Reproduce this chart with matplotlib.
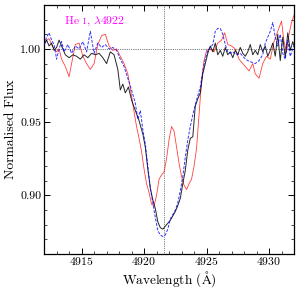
import numpy as np
import matplotlib
matplotlib.use("Agg")
import matplotlib.pyplot as plt
from matplotlib.ticker import MultipleLocator, FormatStrFormatter
from matplotlib.offsetbox import TextArea, HPacker, AnnotationBbox

plt.rcParams['font.family'] = ['cmr10', 'DejaVu Serif']
plt.rcParams['mathtext.fontset'] = 'cm'
plt.rcParams['axes.formatter.use_mathtext'] = True
plt.rcParams['axes.unicode_minus'] = False

# Black (solid) spectrum
black_wave = [4912.0, 4912.2, 4912.4, 4912.6, 4912.8, 4913.0, 4913.2, 4913.4, 4913.7, 4914.0,
              4914.3, 4914.6, 4914.9, 4915.2, 4915.5, 4915.8, 4916.1, 4916.4, 4916.7, 4917.0,
              4917.3, 4917.6, 4917.9, 4918.1, 4918.3, 4918.5, 4918.75, 4919.0, 4919.3, 4919.6,
              4919.9, 4920.1, 4920.3, 4920.5, 4920.7, 4920.9, 4921.1, 4921.3, 4921.5, 4921.7,
              4921.9, 4922.1, 4922.3, 4922.5, 4922.7, 4922.9, 4923.1, 4923.3, 4923.5, 4923.7,
              4923.9, 4924.1, 4924.3, 4924.5, 4924.7, 4924.9, 4925.1, 4925.3, 4925.5, 4925.7,
              4925.9, 4926.1, 4926.3, 4926.5, 4926.7, 4926.9, 4927.1, 4927.3, 4927.5, 4927.7,
              4927.9, 4928.1, 4928.3, 4928.5, 4928.7, 4928.9, 4929.1, 4929.3, 4929.5, 4929.7,
              4929.9, 4930.1, 4930.3, 4930.5, 4930.7, 4930.9, 4931.1, 4931.3, 4931.5, 4931.7,
              4931.9, 4932.0]
black_flux = [1.003, 1.006, 1.002, 1.004, 0.999, 1.001, 1.006, 1.002, 0.996, 0.994,
              0.996, 0.995, 0.993, 0.996, 0.994, 0.997, 0.996, 0.997, 0.994, 0.990,
              0.998, 0.996, 0.986, 0.972, 0.976, 0.970, 0.974, 0.965, 0.958, 0.951,
              0.942, 0.933, 0.918, 0.905, 0.897, 0.891, 0.882, 0.878, 0.877, 0.879,
              0.881, 0.883, 0.886, 0.889, 0.893, 0.898, 0.908, 0.917, 0.931, 0.939,
              0.940, 0.961, 0.966, 0.970, 0.983, 0.990, 0.997, 1.002, 0.998, 1.004,
              0.996, 0.999, 0.995, 1.001, 0.996, 0.998, 0.994, 0.999, 0.996, 1.001,
              0.997, 0.995, 0.998, 1.003, 0.996, 0.999, 0.996, 1.003, 0.998, 1.002,
              0.995, 0.999, 1.004, 0.995, 1.010, 0.992, 1.008, 0.994, 1.011, 0.999,
              1.005, 1.002]

# Blue (dashed) spectrum
blue_wave = [4912.0, 4912.2, 4912.4, 4912.6, 4912.8, 4913.0, 4913.2, 4913.4, 4913.6, 4913.9,
             4914.2, 4914.5, 4914.8, 4915.1, 4915.4, 4915.7, 4916.0, 4916.3, 4916.6, 4916.9,
             4917.2, 4917.5, 4917.8, 4918.1, 4918.4, 4918.7, 4919.0, 4919.3, 4919.5, 4919.7,
             4919.9, 4920.1, 4920.3, 4920.5, 4920.7, 4920.9, 4921.1, 4921.3, 4921.5, 4921.7,
             4921.9, 4922.1, 4922.3, 4922.5, 4922.7, 4922.9, 4923.1, 4923.3, 4923.5, 4923.7,
             4923.9, 4924.1, 4924.3, 4924.5, 4924.7, 4924.9, 4925.1, 4925.3, 4925.5, 4925.7,
             4925.9, 4926.1, 4926.3, 4926.5, 4926.7, 4926.9, 4927.1, 4927.4, 4927.7, 4928.0,
             4928.3, 4928.6, 4928.9, 4929.2, 4929.5, 4929.7, 4929.9, 4930.1, 4930.3, 4930.5,
             4930.7, 4930.9, 4931.1, 4931.3, 4931.5, 4931.7, 4931.9, 4932.0]
blue_flux = [1.003, 1.008, 1.011, 1.006, 1.003, 0.993, 1.000, 1.005, 0.998, 1.003,
             0.997, 1.002, 1.000, 1.005, 0.998, 1.012, 0.997, 1.004, 1.001, 1.003,
             1.000, 1.001, 0.999, 0.993, 0.988, 0.980, 0.972, 0.963, 0.952, 0.958,
             0.945, 0.935, 0.920, 0.905, 0.895, 0.885, 0.876, 0.873, 0.872, 0.873,
             0.877, 0.884, 0.887, 0.890, 0.895, 0.903, 0.913, 0.926, 0.938, 0.947,
             0.955, 0.962, 0.968, 0.974, 0.985, 0.993, 0.999, 1.001, 1.003, 1.012,
             1.014, 1.014, 1.010, 1.003, 0.998, 0.997, 0.998, 0.996, 0.997, 0.994,
             0.992, 0.991, 0.990, 0.992, 0.996, 1.004, 1.008, 1.012, 1.018, 1.008,
             1.002, 1.010, 0.997, 0.993, 1.006, 0.995, 1.000, 1.002]

# Red (thin) spectrum
red_wave = [4912.0, 4912.2, 4912.4, 4912.6, 4912.8, 4913.0, 4913.2, 4913.4, 4913.7, 4914.0,
            4914.2, 4914.5, 4914.8, 4915.1, 4915.4, 4915.7, 4916.0, 4916.3, 4916.6, 4916.9,
            4917.2, 4917.5, 4917.8, 4918.1, 4918.4, 4918.7, 4919.0, 4919.2, 4919.4, 4919.6,
            4919.8, 4920.0, 4920.2, 4920.4, 4920.6, 4920.8, 4921.0, 4921.2, 4921.4, 4921.6,
            4921.8, 4922.0, 4922.2, 4922.4, 4922.6, 4922.8, 4923.0, 4923.2, 4923.4, 4923.6,
            4923.8, 4924.0, 4924.2, 4924.4, 4924.6, 4924.8, 4925.0, 4925.3, 4925.6, 4925.9,
            4926.2, 4926.45, 4926.7, 4927.0, 4927.3, 4927.6, 4927.9, 4928.1, 4928.4, 4928.7,
            4928.9, 4929.2, 4929.5, 4929.8, 4930.1, 4930.4, 4930.7, 4931.0, 4931.2, 4931.4,
            4931.6, 4931.8, 4932.0]
red_flux = [1.003, 1.006, 1.007, 1.003, 1.000, 0.998, 1.000, 0.993, 0.988, 0.981,
            0.990, 1.003, 1.004, 0.995, 0.990, 0.986, 0.990, 1.003, 1.009, 1.010,
            1.002, 0.999, 1.000, 0.995, 0.990, 0.983, 0.968, 0.957, 0.947, 0.939,
            0.930, 0.918, 0.908, 0.902, 0.894, 0.893, 0.900, 0.911, 0.914, 0.916,
            0.925, 0.938, 0.947, 0.944, 0.933, 0.922, 0.913, 0.907, 0.904, 0.908,
            0.911, 0.920, 0.932, 0.955, 0.978, 0.992, 0.999, 1.000, 0.998, 1.004,
            1.006, 1.011, 1.003, 1.002, 1.000, 0.993, 0.990, 0.988, 0.985, 0.990,
            0.983, 0.980, 0.990, 0.995, 0.993, 1.005, 1.012, 1.019, 1.005, 0.998,
            1.010, 1.018, 1.023]

line_center = 4921.6
label_parts = ['He ', 'I', ', $\\lambda$4922']

fig = plt.figure(figsize=(3.0, 2.92), dpi=100)
ax = fig.add_axes([0.147, 0.130, 0.833, 0.853])

ax.plot(red_wave, red_flux, color='red', lw=0.6, alpha=0.75, zorder=2)
ax.plot(black_wave, black_flux, color='black', lw=0.7, alpha=0.85, zorder=3)
ax.plot(blue_wave, blue_flux, color='blue', lw=0.7, ls=(0, (3, 1.5)), alpha=0.8, zorder=4)

ax.axhline(1.0, color='black', lw=0.5, ls=':', zorder=1)
ax.axvline(line_center, color='black', lw=0.5, ls=':', zorder=1)

ax.set_xlim(4912, 4932)
ax.set_ylim(0.86, 1.03)
ax.xaxis.set_major_locator(MultipleLocator(5))
ax.xaxis.set_minor_locator(MultipleLocator(1))
ax.yaxis.set_major_locator(MultipleLocator(0.05))
ax.yaxis.set_minor_locator(MultipleLocator(0.01))
ax.yaxis.set_major_formatter(FormatStrFormatter('%.2f'))
ax.tick_params(which='both', direction='in', top=True, right=True, labelsize=8.5)
ax.tick_params(axis='x', which='both', pad=1)
ax.tick_params(axis='y', which='both', pad=2)
ax.tick_params(which='major', length=4, width=0.7)
ax.tick_params(which='minor', length=2, width=0.5)
for s in ax.spines.values():
    s.set_linewidth(0.9)

ax.set_xlabel('Wavelength ($\\mathrm{\\AA}$)', fontsize=9.6, labelpad=1)
ax.set_ylabel('Normalised Flux', fontsize=9.8, labelpad=2)

tprops = dict(color='magenta', family=['cmr10', 'DejaVu Serif'])
parts = [TextArea(label_parts[0], textprops=dict(fontsize=8.5, **tprops)),
         TextArea(label_parts[1], textprops=dict(fontsize=6.3, **tprops)),
         TextArea(label_parts[2], textprops=dict(fontsize=8.5, **tprops))]
pack = HPacker(children=parts, align='baseline', pad=0, sep=0)
ab = AnnotationBbox(pack, (4916.1, 1.019), xycoords='data', frameon=False,
                    box_alignment=(0.5, 0.5), pad=0)
ax.add_artist(ab)

fig.savefig('out.png', dpi=100)
